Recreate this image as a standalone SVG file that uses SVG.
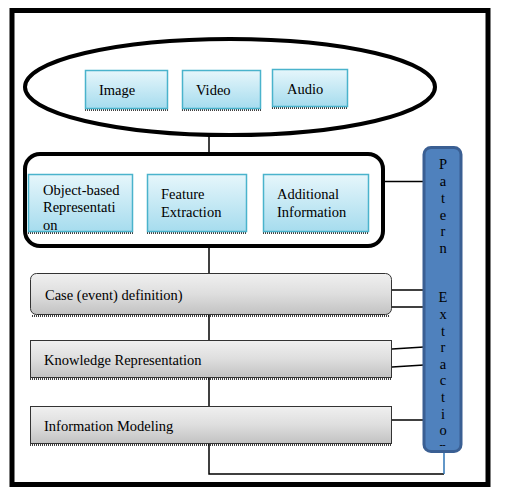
<svg xmlns="http://www.w3.org/2000/svg" width="506" height="497" viewBox="0 0 506 497">
<defs>
<linearGradient id="gc" x1="0" y1="0" x2="0" y2="1"><stop offset="0" stop-color="#e6f6fb"/><stop offset="1" stop-color="#a6dcee"/></linearGradient>
<linearGradient id="gg" x1="0" y1="0" x2="0" y2="1"><stop offset="0" stop-color="#f0f0f0"/><stop offset="0.5" stop-color="#dedede"/><stop offset="1" stop-color="#c2c2c2"/></linearGradient>
<clipPath id="cpo"><rect x="28" y="174" width="105" height="58"/></clipPath>
<clipPath id="cpp"><rect x="423" y="147" width="39" height="299"/></clipPath>
</defs>
<style>
text{font-family:"Liberation Serif","Times New Roman",serif;font-size:14.5px;fill:#000}
.c{fill:url(#gc);stroke:#4ab3cc;stroke-width:1.5}
.g{fill:url(#gg);stroke:#333;stroke-width:1}
.sh{stroke:#000;stroke-width:1.5;stroke-dasharray:1 1;fill:none}
.ln{stroke:#000;stroke-width:1.5;fill:none}
.pt text{text-anchor:middle}
</style>
<rect x="12" y="10.5" width="476" height="474" fill="#fff" stroke="#000" stroke-width="5"/>
<g id="connectors">
<line class="ln" x1="209" y1="136" x2="209" y2="153"/>
<line class="ln" x1="209" y1="247" x2="209" y2="273"/>
<line class="ln" x1="209" y1="315" x2="209" y2="340"/>
<line class="ln" x1="209" y1="378" x2="209" y2="406"/>
<line class="ln" x1="384" y1="181.5" x2="424" y2="181.5"/>
<line class="ln" x1="392" y1="290" x2="424" y2="290"/>
<line class="ln" x1="392" y1="307" x2="424" y2="307"/>
<line class="ln" x1="392" y1="349" x2="424" y2="347"/>
<line class="ln" x1="392" y1="367" x2="424" y2="365"/>
<line class="ln" x1="392" y1="420" x2="424" y2="420"/>
<polyline class="ln" points="209,444 209,474 444,474"/>
<line x1="444" y1="474" x2="444" y2="453" stroke="#2e75b6" stroke-width="1.5"/>
</g>
<g id="media">
<ellipse cx="230" cy="87" rx="205" ry="48" fill="none" stroke="#000" stroke-width="4"/>
</g>
<g id="image">
<line class="sh" x1="85" y1="110" x2="168" y2="110"/>
<rect class="c" x="85.5" y="70.5" width="82" height="38"/>
<text x="99" y="95">Image</text>
</g>
<g id="video">
<line class="sh" x1="182" y1="110" x2="261" y2="110"/>
<rect class="c" x="182.5" y="70.5" width="78" height="38"/>
<text x="196" y="95">Video</text>
</g>
<g id="audio">
<line class="sh" x1="272" y1="108" x2="348" y2="108"/>
<rect class="c" x="272.5" y="69.5" width="75" height="37"/>
<text x="287" y="94">Audio</text>
</g>
<g id="analysis">
<rect x="25" y="154" width="358" height="92" rx="15" fill="none" stroke="#000" stroke-width="4"/>
</g>
<g id="object">
<line class="sh" x1="28" y1="233" x2="133" y2="233"/>
<rect class="c" x="28.5" y="174.5" width="104" height="57"/>
<g clip-path="url(#cpo)">
<text x="43" y="195">Object-based</text>
<text x="43" y="212">Representati</text>
<text x="43" y="230">on</text>
</g>
</g>
<g id="feature">
<line class="sh" x1="147" y1="233" x2="247" y2="233"/>
<rect class="c" x="147.5" y="174.5" width="99" height="57"/>
<text x="161" y="199">Feature</text>
<text x="161" y="217">Extraction</text>
</g>
<g id="additional">
<line class="sh" x1="263" y1="233" x2="369" y2="233"/>
<rect class="c" x="263.5" y="174.5" width="105" height="57"/>
<text x="277" y="199">Additional</text>
<text x="277" y="217">Information</text>
</g>
<g id="case">
<line class="sh" x1="32" y1="316" x2="390" y2="316"/>
<rect class="g" x="30.5" y="273.5" width="361" height="41" rx="6"/>
<text x="45" y="300">Case (event) definition)</text>
</g>
<g id="knowledge">
<line class="sh" x1="30" y1="379" x2="392" y2="379"/>
<rect class="g" x="30.5" y="340.5" width="361" height="37"/>
<text x="44" y="365">Knowledge Representation</text>
</g>
<g id="modeling">
<line class="sh" x1="30" y1="445" x2="392" y2="445"/>
<rect class="g" x="30.5" y="406.5" width="361" height="37"/>
<text x="44" y="431">Information Modeling</text>
</g>
<g id="pattern" class="pt">
<rect x="424" y="147.5" width="37" height="304" rx="7" fill="#4f81bd" stroke="#3a5f93" stroke-width="3"/>
<g clip-path="url(#cpp)">
<text x="443" y="169">P</text>
<text x="443" y="186">a</text>
<text x="443" y="203">t</text>
<text x="443" y="220">e</text>
<text x="443" y="236">r</text>
<text x="443" y="253">n</text>
<text x="443" y="302">E</text>
<text x="443" y="319">x</text>
<text x="443" y="336">t</text>
<text x="443" y="352">r</text>
<text x="443" y="369">a</text>
<text x="443" y="385">c</text>
<text x="443" y="402">t</text>
<text x="443" y="419">i</text>
<text x="443" y="435">o</text>
<text x="443" y="452">n</text>
</g>
</g>
</svg>
